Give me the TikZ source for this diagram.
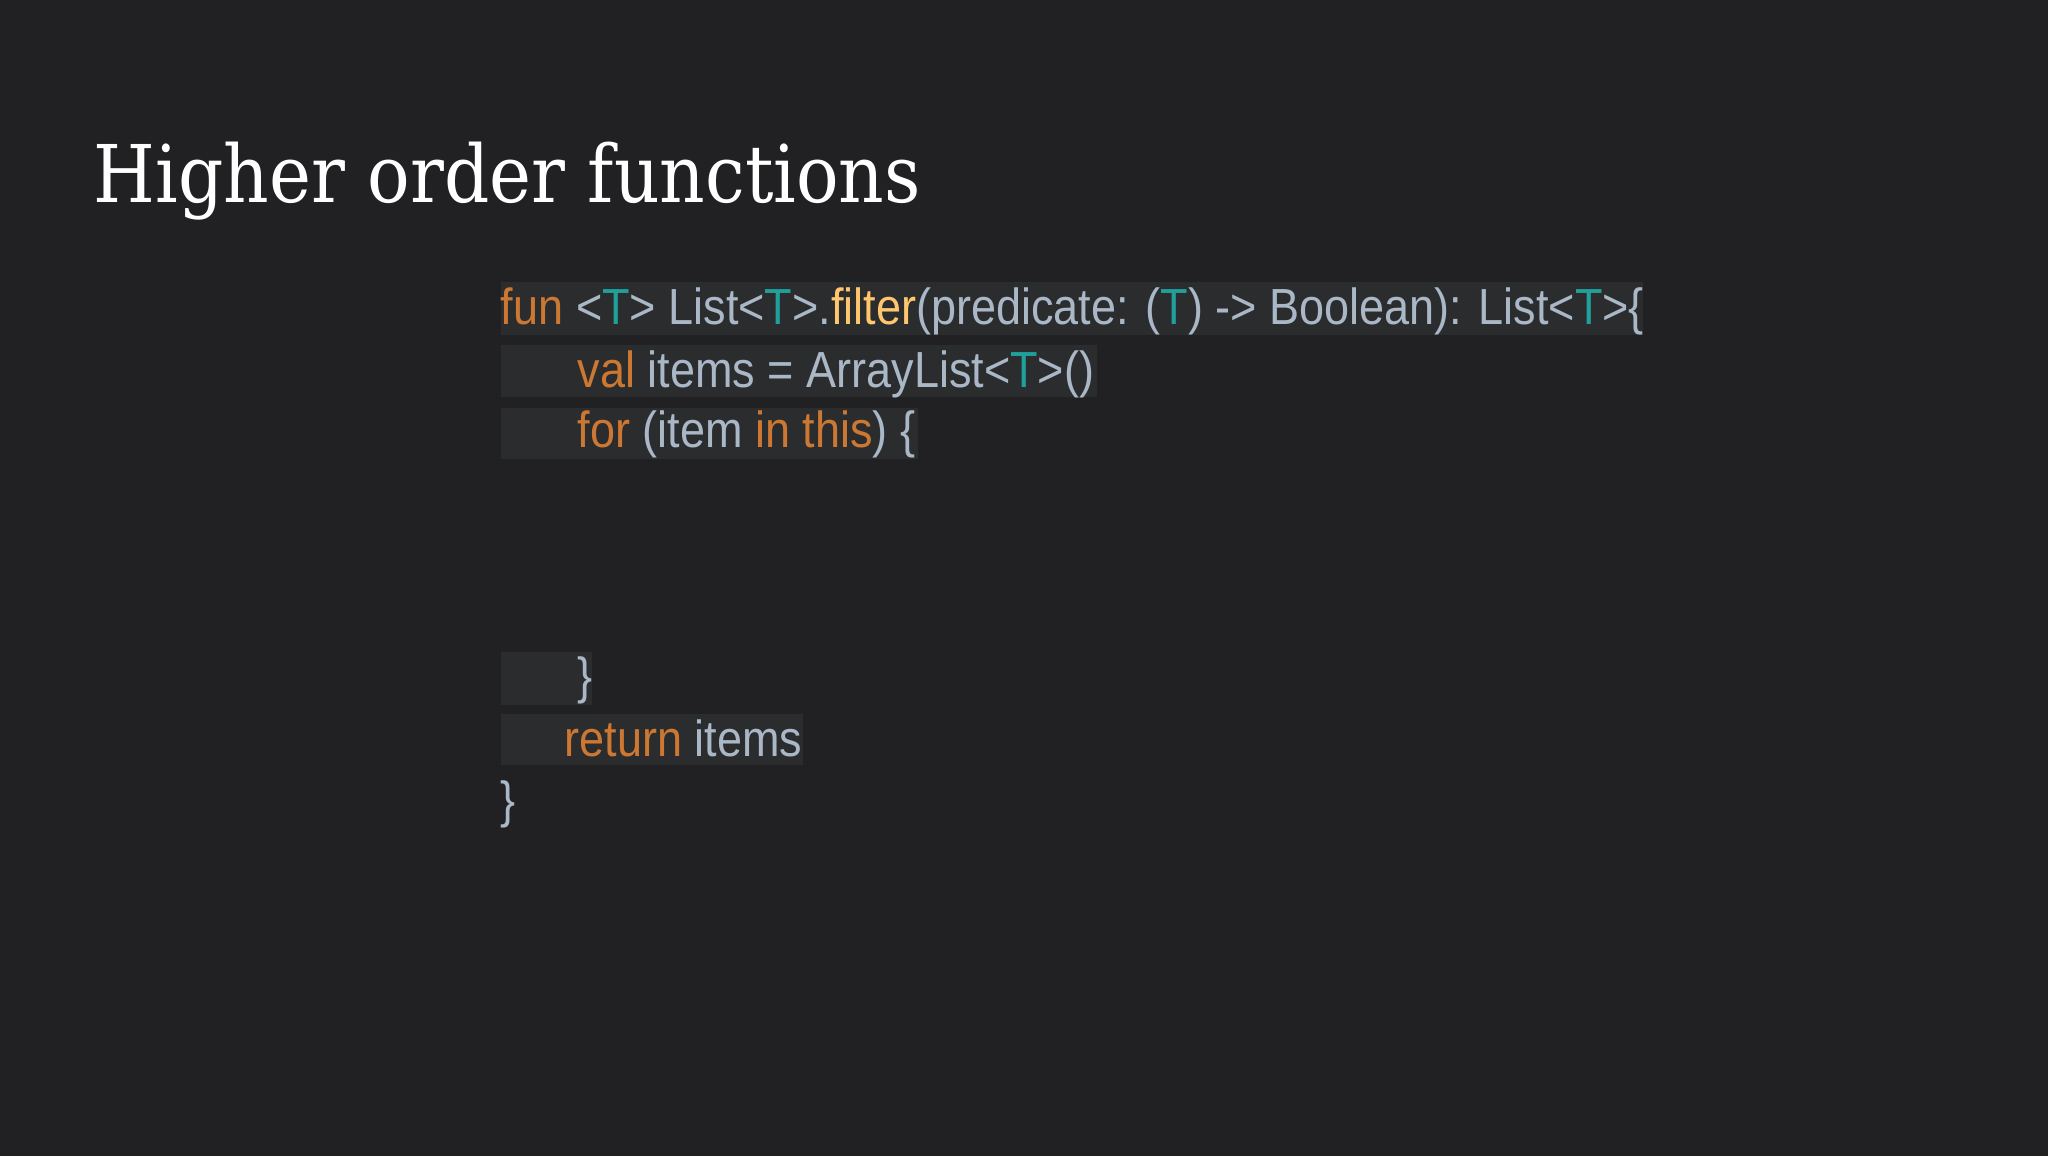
\documentclass[tikz,border=0pt]{standalone}
\usepackage{fontspec}
\setmainfont{Liberation Sans}[FakeStretch=0.887]
\newfontfamily\titlefont{DejaVu Serif}[FakeStretch=0.89]
\definecolor{bg}{HTML}{212123}
\definecolor{hl}{HTML}{2B2C2E}
\definecolor{kw}{HTML}{CC7832}
\definecolor{tx}{HTML}{A9B7C6}
\definecolor{ty}{HTML}{20A09A}
\definecolor{fn}{HTML}{FFC66D}
\newcommand{\K}[1]{\textcolor{kw}{#1}}
\newcommand{\Ty}{\textcolor{ty}{T}}
\begin{document}
\begin{tikzpicture}[x=0.5pt,y=-0.5pt,
  code/.style={anchor=base west,inner sep=0pt,text=tx,font=\fontsize{25.5}{30}\selectfont},
  hlbox/.style={fill=hl,draw=none}]
\fill[bg] (-5,-5) rectangle (2053,1157);
\useasboundingbox (0,0) rectangle (2048,1152);
\node[anchor=base west,inner sep=0pt,text=white,font=\titlefont\fontsize{40}{46}\selectfont] (title) at (89,198) {Higher order functions};
\fill[hlbox] (498,278) rectangle (1646,332);
\fill[hlbox] (498,342) rectangle (1097,394);
\fill[hlbox] (498,405) rectangle (917,456);
\fill[hlbox] (498,650) rectangle (590,703);
\fill[hlbox] (498,712) rectangle (802,764);
\node[code] (l1) at (498,321) {\K{fun} <\Ty> List<\Ty>.\textcolor{fn}{filter}(predicate: (\Ty) -> Boolean): List<\Ty>\{};
\node[code] (l2) at (575,384) {\K{val} items = ArrayList<\Ty>()};
\node[code] (l3) at (575,445) {\K{for} (item \K{in} \K{this}) \{};
\node[code] (l4) at (575,692) {\}};
\node[code] (l5) at (562,755) {\K{return} items};
\node[code] (l6) at (498,816) {\}};
\end{tikzpicture}
\end{document}
